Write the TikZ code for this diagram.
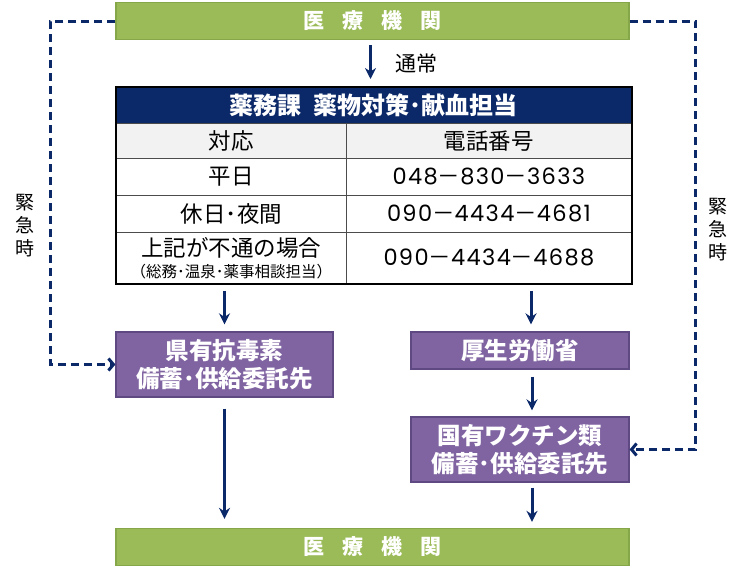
\documentclass[tikz,border=0pt]{standalone}
\usepackage{fontspec}
\setmainfont{Noto Sans CJK JP}
\newfontfamily\numfont[LetterSpace=6]{Poppins}
\usepackage{xcolor}
\usepackage{tikz}
\usetikzlibrary{arrows.meta,calc}

\definecolor{boxgreen}{HTML}{9BBB59}
\definecolor{boxgreenline}{HTML}{86A64A}
\definecolor{boxpurple}{HTML}{8064A2}
\definecolor{boxpurpleline}{HTML}{5E4982}
\definecolor{navy}{HTML}{0B2869}
\definecolor{rowgray}{HTML}{F2F2F2}

\newcommand{\telno}[3]{{\numfont #1}－{\numfont #2}－{\numfont #3}}

\tikzset{
  instbox/.style={draw=boxgreenline,line width=1.2pt,fill=boxgreen,text=white,inner sep=0pt,
    minimum width=513pt,minimum height=37pt,font=\fontsize{21}{24}\selectfont\bfseries},
  stockbox/.style={draw=boxpurpleline,line width=1.2pt,fill=boxpurple,text=white,inner sep=0pt,
    minimum width=218pt,align=center,font=\fontsize{23.5}{28.5}\selectfont\bfseries},
  cellbox/.style={draw=black!70,line width=0.8pt,anchor=north west,inner sep=0pt,align=center,
    font=\fontsize{22.5}{26}\selectfont},
  arr/.style={->,navy,line width=3pt},
  emg/.style={navy,line width=3pt,dash pattern=on 8pt off 5pt,
    -{Straight Barb[length=5pt,width=12pt,line width=3pt]}},
}

\begin{document}
\begin{tikzpicture}[x=1pt,y=-1pt,>={Stealth[length=11pt,width=11pt]}]
  \useasboundingbox (0,0) rectangle (740,573);
  % boxes
  \node[instbox] (top) at (372.5,21) {医\hspace{0.85em}療\hspace{0.85em}機\hspace{0.85em}関};
  \node[instbox] (bot) at (372.5,547) {医\hspace{0.85em}療\hspace{0.85em}機\hspace{0.85em}関};
  \node[stockbox,minimum width=217pt,minimum height=65pt] (pA) at (224.5,364.5) {県有抗毒素\\備蓄･供給委託先};
  \node[stockbox,minimum height=37pt] (pB) at (520,350.5) {厚生労働省};
  \node[stockbox,minimum height=65pt] (pC) at (520,449.5) {国有ワクチン類\\備蓄･供給委託先};
  % table
  \node[cellbox,fill=navy,text=white,minimum width=515pt,minimum height=36pt,font=\fontsize{24}{26}\selectfont\bfseries] (head) at (116,87) {薬務課\hspace{0.5em}薬物対策･献血担当};
  \node[cellbox,fill=rowgray,minimum width=230pt,minimum height=35pt] (r1l) at (116,123) {対応};
  \node[cellbox,fill=rowgray,minimum width=285pt,minimum height=35pt] (r1r) at (346,123) {電話番号};
  \node[cellbox,minimum width=230pt,minimum height=37pt] (r2l) at (116,158) {平日};
  \node[cellbox,minimum width=285pt,minimum height=37pt] (r2r) at (346,158) {\telno{048}{830}{3633}};
  \node[cellbox,minimum width=230pt,minimum height=37pt] (r3l) at (116,195) {休日･夜間};
  \node[cellbox,minimum width=285pt,minimum height=37pt] (r3r) at (346,195) {\telno{090}{4434}{4681}};
  \node[cellbox,minimum width=230pt,minimum height=51pt] (r4l) at (116,232) {上記が不通の場合\\[-5pt]{\fontsize{15.5}{17}\selectfont （総務･温泉･薬事相談担当）}};
  \node[cellbox,minimum width=285pt,minimum height=51pt] (r4r) at (346,232) {\telno{090}{4434}{4688}};
  \draw[line width=1.5pt] (head.north west) rectangle (r4r.south east);
  % labels
  \node[font=\fontsize{21}{24}\selectfont] (usual) at (416,64) {通常};
  \node[align=center,font=\fontsize{19}{23}\selectfont] (emgL) at (25,226) {緊\\急\\時};
  \node[align=center,font=\fontsize{19}{23}\selectfont] (emgR) at (718,230) {緊\\急\\時};
  % normal route
  \draw[arr] ($(top.south)+(-2,5)$) -- ($(top.south |- head.north)+(-2,-8)$);
  \draw[arr] ($(pA.north |- r4l.south)+(0,7)$) -- ($(pA.north)+(0,-7)$);
  \draw[arr] ($(pB.north |- r4r.south)+(11,7)$) -- ($(pB.north)+(11,-7)$);
  \draw[arr] ($(pB.south)+(12,7)$) -- ($(pC.north)+(12,-6)$);
  \draw[arr] ($(pC.south)+(12,5)$) -- ($(pC.south |- bot.north)+(12,-6)$);
  \draw[arr] ($(pA.south)+(0,11)$) -- ($(pA.south |- bot.north)+(0,-9)$);
  % emergency route
  \draw[emg] (top.west) -- ++(-65,0) |- (pA.west);
  \draw[emg] (top.east) -- ++(66,0) |- (pC.east);
\end{tikzpicture}
\end{document}
